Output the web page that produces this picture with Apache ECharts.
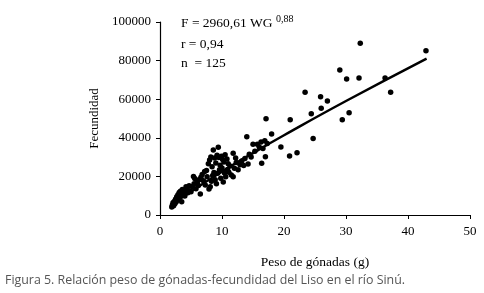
<!DOCTYPE html>
<html>
<head>
<meta charset="utf-8">
<script src="https://cdn.jsdelivr.net/npm/echarts@6/dist/echarts.min.js"></script>
<style>
  html, body { margin: 0; padding: 0; background: #fff; }
  #chart { width: 484px; height: 293px; }
</style>
</head>
<body>
<div id="chart"></div>
<script>
// peso de gónadas (g) y fecundidad
const pesoGonadas = [
  1.9, 2.0, 2.1, 2.2, 2.3, 2.4, 2.5, 2.6, 2.7, 2.8, 2.9, 3.0, 3.1, 3.2, 3.3, 3.5, 3.4, 3.6, 3.8, 3.9, 4.0, 4.2, 4.3, 4.5, 4.7, 4.8,
  5.0, 5.2, 5.4, 5.5, 5.6, 5.8, 6.0, 6.2, 6.5, 6.6, 6.8, 7.0, 7.2, 7.3, 7.5, 7.6, 7.8, 7.9,
  8.0, 8.2, 8.4, 8.6, 8.8, 9.0, 9.2, 9.4, 9.5, 9.7, 9.9, 10.1, 10.3, 10.5, 10.8, 11.0,
  8.1, 8.3, 8.5, 8.7, 8.9, 9.1, 9.3, 9.6, 9.8, 10.0, 10.2, 10.4, 10.6, 10.9, 11.1, 11.3, 11.5, 11.8, 11.8, 12.0, 12.3, 12.6, 12.9,
  13.2, 13.5, 13.7, 14.0, 14.2, 14.4, 14.7, 15.0, 15.3, 15.7, 16.0, 16.3, 16.4, 16.6, 16.9, 17.0, 17.1, 17.3,
  18.0, 19.5, 20.9, 21.0, 22.1, 23.4, 24.4, 24.7, 25.9, 26.0, 27.0,
  29.0, 29.4, 30.1, 30.5, 32.1, 32.3, 36.3, 37.2, 42.9,
  2.2, 3.0, 6.3, 12.2
];
const fecundidad = [
  4200, 5200, 6300, 4800, 7000, 5800, 8200, 6800, 9500, 7600, 10500, 8800, 11600, 9900, 12300, 6900, 10800, 13200, 11800, 12800, 9800, 14600, 13400, 11500, 15200, 12600,
  12000, 14800, 20000, 16200, 18900, 13600, 17000, 15300, 10900, 19500, 21000, 17800, 22500, 15600, 23000, 19800, 26500, 13500,
  28500, 30000, 25000, 33700, 29500, 27000, 31000, 35100, 29800, 25800, 30500, 28700, 27400, 31200, 29000, 26500,
  14700, 17500, 20500, 22000, 18200, 16200, 21600, 23500, 19000, 24300, 17100, 21800, 19800, 23600, 22200, 25400, 20700, 19800, 32000, 24200, 27200, 23400, 26000,
  28000, 25600, 29300, 40600, 26400, 31500, 30000, 36600, 33000, 36600, 35200, 37800, 26800, 34500, 38500, 30200, 49900, 37000,
  42000, 35200, 30600, 49400, 32300, 63600, 52500, 39700, 61300, 55300, 59100,
  75100, 49400, 70500, 53000, 71000, 89000, 71000, 63600, 85100,
  5600, 10200, 18300, 29500
];

// curva ajustada (potencial), puntos leídos sobre la línea
const ajusteX = [2, 5, 10, 15, 20, 30, 43];
const ajusteY = [5450, 12200, 22460, 32090, 41330, 59060, 81060];

const xTicks = [0, 10, 20, 30, 40, 50];
const yTicks = [0, 20000, 40000, 60000, 80000, 100000];

const puntos = pesoGonadas.map((x, i) => [x, fecundidad[i]]);
const curva = ajusteX.map((x, i) => [x, ajusteY[i]]);

const serif = '"Liberation Serif", "DejaVu Serif", serif';

let chart = echarts.init(document.getElementById('chart'));
chart.setOption({
  animation: false,
  grid: {left: 160, right: 14, top: 22, bottom: 78},
  xAxis: {
    type: 'value',
    min: xTicks[0],
    max: xTicks[xTicks.length - 1],
    interval: 10,
    name: 'Peso de gónadas (g)',
    nameLocation: 'middle',
    nameGap: 40,
    nameTextStyle: {color: '#000', fontFamily: serif, fontSize: 13.5},
    axisLine: {lineStyle: {color: '#000', width: 1.2}},
    axisTick: {show: true, length: 4, lineStyle: {color: '#000'}},
    axisLabel: {color: '#000', fontFamily: serif, fontSize: 13, margin: 10},
    splitLine: {show: false}
  },
  yAxis: {
    type: 'value',
    min: yTicks[0],
    max: yTicks[yTicks.length - 1],
    interval: 20000,
    name: 'Fecundidad',
    nameLocation: 'middle',
    nameGap: 59,
    nameTextStyle: {color: '#000', fontFamily: serif, fontSize: 13},
    axisLine: {show: true, lineStyle: {color: '#000', width: 1.2}},
    axisTick: {show: true, length: 4, lineStyle: {color: '#000'}},
    axisLabel: {color: '#000', fontFamily: serif, fontSize: 13, margin: 9, formatter: v => String(v)},
    splitLine: {show: false}
  },
  series: [
    {
      type: 'scatter',
      data: puntos,
      symbolSize: 5.5,
      itemStyle: {color: '#000', opacity: 1}
    },
    {
      type: 'line',
      data: curva,
      smooth: true,
      showSymbol: false,
      lineStyle: {color: '#000', width: 2.5}
    }
  ],
  graphic: [
    {
      type: 'text',
      left: 181,
      top: 14,
      style: {
        text: '{a|F = 2960,61 WG }{s|0,88}',
        rich: {
          a: {fontFamily: serif, fontSize: 13.5, fill: '#000'},
          s: {fontFamily: serif, fontSize: 10, fill: '#000', verticalAlign: 'top', padding: [0, 0, 9, 0]}
        }
      }
    },
    {
      type: 'text',
      left: 181,
      top: 37,
      style: {text: 'r = 0,94', fontFamily: serif, fontSize: 13.5, fill: '#000'}
    },
    {
      type: 'text',
      left: 181,
      top: 56,
      style: {text: 'n  = 125', fontFamily: serif, fontSize: 13.5, fill: '#000'}
    },
    {
      type: 'text',
      left: 5,
      top: 274,
      style: {
        text: 'Figura 5. Relación peso de gónadas-fecundidad del Liso en el río Sinú.',
        fontFamily: '"Open Sans", "Noto Sans", sans-serif',
        fontSize: 12.4,
        fill: '#555'
      }
    }
  ]
});
</script>
</body>
</html>
